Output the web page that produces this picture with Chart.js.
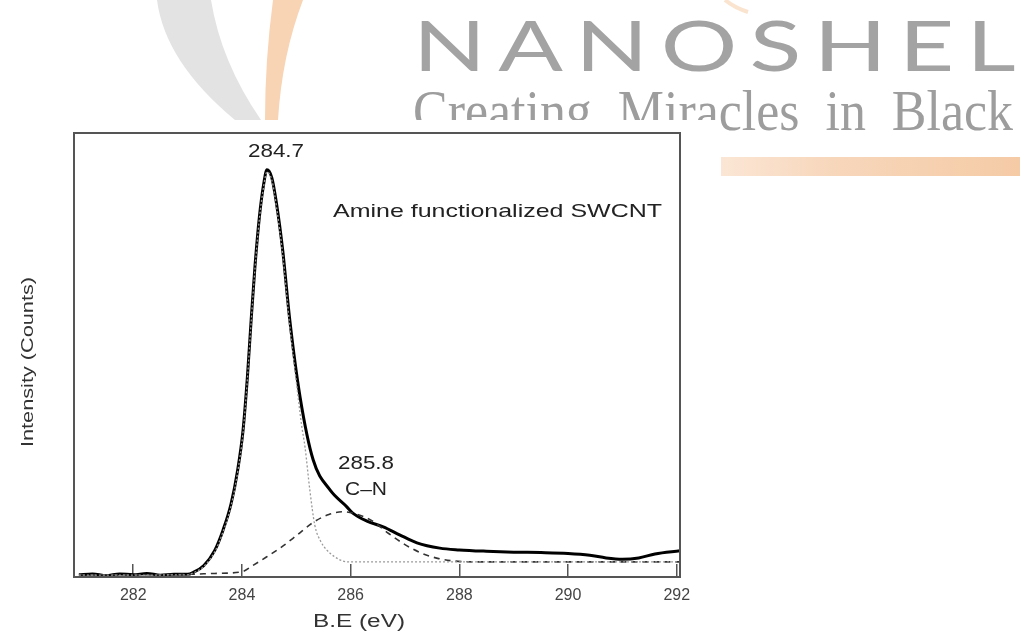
<!DOCTYPE html>
<html>
<head>
<meta charset="utf-8">
<script src="https://cdn.jsdelivr.net/npm/chart.js@4"></script>
<style>
  body { margin: 0; background: #fff; }
  #wrap { width: 1024px; height: 635px; position: relative; }
</style>
</head>
<body>
<div id="wrap"><canvas id="xpsChart"></canvas></div>
<script>
// C1s spectrum, binding energy (eV) vs intensity (arbitrary counts)
const beSolid = [281.0, 281.25, 281.5, 281.75, 282.0, 282.25, 282.5, 282.75, 283.0, 283.1, 283.3, 283.5, 283.65, 283.8, 283.92, 284.02, 284.1, 284.17, 284.24, 284.32, 284.4, 284.46, 284.55, 284.64, 284.75, 284.88, 285.07, 285.31, 285.62, 285.93, 286.04, 286.3, 286.6, 286.9, 287.22, 287.64, 288.0, 288.5, 289.0, 289.5, 290.0, 290.4, 290.7, 291.0, 291.3, 291.6, 292.06];
const intSolid = [0.5, 0.7, 0.3, 0.7, 0.5, 0.8, 0.4, 0.6, 0.6, 1.0, 2.6, 6.0, 10.5, 16.5, 24.0, 33.0, 45.0, 58.0, 70.0, 81.0, 88.5, 91.7, 89.9, 83.8, 73.6, 57.9, 40.5, 26.4, 19.6, 15.8, 14.4, 12.6, 11.3, 9.5, 7.7, 6.5, 6.1, 5.8, 5.6, 5.5, 5.3, 4.9, 4.3, 4.0, 4.3, 5.2, 5.9];

const beCC = [281.0, 283.0, 283.1, 283.3, 283.5, 283.65, 283.8, 283.92, 284.02, 284.1, 284.17, 284.24, 284.32, 284.4, 284.46, 284.55, 284.64, 284.75, 284.88, 285.0, 285.1, 285.16, 285.25, 285.34, 285.45, 285.56, 285.7, 285.86, 286.0, 288.0, 290.0, 292.06];
const intCC = [0.4, 0.5, 0.9, 2.4, 5.7, 10.1, 16.0, 23.5, 32.5, 44.5, 57.5, 69.5, 80.5, 88.0, 91.2, 89.4, 83.0, 72.6, 56.5, 44.0, 34.0, 29.3, 19.5, 11.7, 8.0, 6.1, 4.6, 3.6, 3.4, 3.4, 3.4, 3.4];

const beCN = [281.0, 282.0, 283.0, 283.5, 284.0, 284.2, 284.45, 284.7, 285.0, 285.3, 285.6, 285.86, 286.1, 286.4, 286.7, 287.0, 287.3, 287.6, 287.9, 288.3, 290.0, 292.06];
const intCN = [0.5, 0.5, 0.6, 0.8, 1.2, 2.6, 4.5, 6.5, 9.3, 12.2, 14.1, 14.7, 14.2, 12.6, 9.8, 7.3, 5.4, 4.2, 3.6, 3.4, 3.4, 3.4];

const xTicks = [282, 284, 286, 288, 290, 292];

function pts(xs, ys) { return xs.map((x, i) => ({ x: x, y: ys[i] })); }

function stretchText(ctx, txt, x, y, w, font, color, align) {
  ctx.save();
  ctx.font = font;
  ctx.fillStyle = color;
  ctx.textBaseline = 'middle';
  ctx.textAlign = 'left';
  const m = ctx.measureText(txt).width;
  const left = align === 'center' ? x - w / 2 : x;
  ctx.translate(left, y);
  ctx.scale(w / m, 1);
  ctx.fillText(txt, 0, 0);
  ctx.restore();
}

// logo watermark behind the chart
const logoPlugin = {
  id: 'logo',
  beforeDraw(chart) {
    const ctx = chart.ctx;
    ctx.save();
    ctx.fillStyle = '#fff';
    ctx.fillRect(0, 0, chart.width, chart.height);

    ctx.fillStyle = '#e3e3e3';
    ctx.beginPath();
    ctx.moveTo(157, 0);
    ctx.quadraticCurveTo(165, 62, 235, 120);
    ctx.lineTo(261, 120);
    ctx.quadraticCurveTo(221, 62, 211, 0);
    ctx.closePath();
    ctx.fill();

    ctx.fillStyle = '#f8d4b4';
    ctx.beginPath();
    ctx.moveTo(273, 0);
    ctx.quadraticCurveTo(265, 60, 265, 120);
    ctx.lineTo(278, 120);
    ctx.quadraticCurveTo(282, 55, 303, 0);
    ctx.closePath();
    ctx.fill();

    ctx.strokeStyle = 'rgba(245,200,160,0.5)';
    ctx.lineWidth = 4;
    ctx.beginPath();
    ctx.moveTo(725, 0);
    ctx.quadraticCurveTo(735, 8, 748, 12);
    ctx.stroke();

    ctx.save();
    ctx.letterSpacing = '9px';
    stretchText(ctx, 'NANOSHEL', 413, 48, 615, '400 70px Lato, "Open Sans", sans-serif', '#a3a3a3', 'left');
    ctx.restore();
    ctx.save();
    ctx.textBaseline = 'alphabetic';
    ctx.font = '58px "Liberation Serif", serif';
    const cw = ctx.measureText('Creating  Miracles  in  Black').width;
    ctx.translate(413, 130);
    ctx.scale(600 / cw, 1);
    ctx.fillStyle = '#9d9d9d';
    ctx.fillText('Creating  Miracles  in  Black', 0, 0);
    ctx.restore();

    const g = ctx.createLinearGradient(720, 0, 1020, 0);
    g.addColorStop(0, '#fbe6d5');
    g.addColorStop(0.4, '#f7d6ba');
    g.addColorStop(1, '#f5cba6');
    ctx.fillStyle = g;
    ctx.fillRect(721, 157, 299, 19);

    // white card of the figure
    ctx.fillStyle = '#fff';
    ctx.fillRect(0, 120, 720, chart.height - 120);
    ctx.restore();
  },
  afterDraw(chart) {
    const ctx = chart.ctx;
    const a = chart.chartArea;
    ctx.save();
    ctx.strokeStyle = '#555';
    ctx.lineWidth = 2;
    ctx.strokeRect(a.left, a.top, a.right - a.left, a.bottom - a.top);
    const f = '19px "Liberation Sans", Arial, sans-serif';
    stretchText(ctx, '284.7', 276, 152, 56, f, '#222', 'center');
    stretchText(ctx, 'Amine functionalized SWCNT', 333, 212, 329, f, '#222', 'left');
    stretchText(ctx, '285.8', 366, 464, 56, f, '#222', 'center');
    stretchText(ctx, 'C\u2013N', 366, 490, 42, f, '#222', 'center');
    stretchText(ctx, 'B.E (eV)', 359, 622, 92, '18px "Liberation Sans", Arial, sans-serif', '#333', 'center');
    ctx.translate(28, 362);
    ctx.rotate(-Math.PI / 2);
    stretchText(ctx, 'Intensity (Counts)', 0, 0, 170, '17px "Liberation Sans", Arial, sans-serif', '#333', 'center');
    ctx.restore();
  }
};

const ctxXps = document.getElementById('xpsChart').getContext('2d');

const xpsChart = new Chart(ctxXps, {
  type: 'line',
  data: {
    datasets: [
      {
        label: 'C=C',
        data: pts(beCC, intCC),
        borderColor: '#9a9a9a',
        borderWidth: 1.3,
        borderDash: [2, 2],
        pointRadius: 0,
        cubicInterpolationMode: 'monotone'
      },
      {
        label: 'C-N',
        data: pts(beCN, intCN),
        borderColor: '#333',
        borderWidth: 1.6,
        borderDash: [6, 5],
        pointRadius: 0,
        cubicInterpolationMode: 'monotone'
      },
      {
        label: 'Amine functionalized SWCNT',
        data: pts(beSolid, intSolid),
        borderColor: '#000',
        borderWidth: 3,
        pointRadius: 0,
        cubicInterpolationMode: 'monotone'
      }
    ]
  },
  options: {
    responsive: true,
    maintainAspectRatio: false,
    animation: false,
    layout: { padding: { left: 74, right: 344, top: 133, bottom: 0 } },
    plugins: { legend: { display: false }, tooltip: { enabled: false } },
    scales: {
      x: {
        type: 'linear',
        min: 280.91,
        max: 292.06,
        afterBuildTicks: (s) => { s.ticks = xTicks.map(v => ({ value: v })); },
        afterFit: (s) => { s.height = 58; },
        grid: { drawOnChartArea: false, drawTicks: true, tickLength: -13, color: '#555', lineWidth: 1.5 },
        border: { color: '#555', width: 2 },
        ticks: {
          padding: 22,
          maxRotation: 0,
          autoSkip: false,
          color: '#444',
          font: { family: '"Liberation Sans", Arial, sans-serif', size: 16 }
        }
      },
      y: {
        display: false,
        min: 0,
        max: 100
      }
    }
  },
  plugins: [logoPlugin]
});
</script>
</body>
</html>
